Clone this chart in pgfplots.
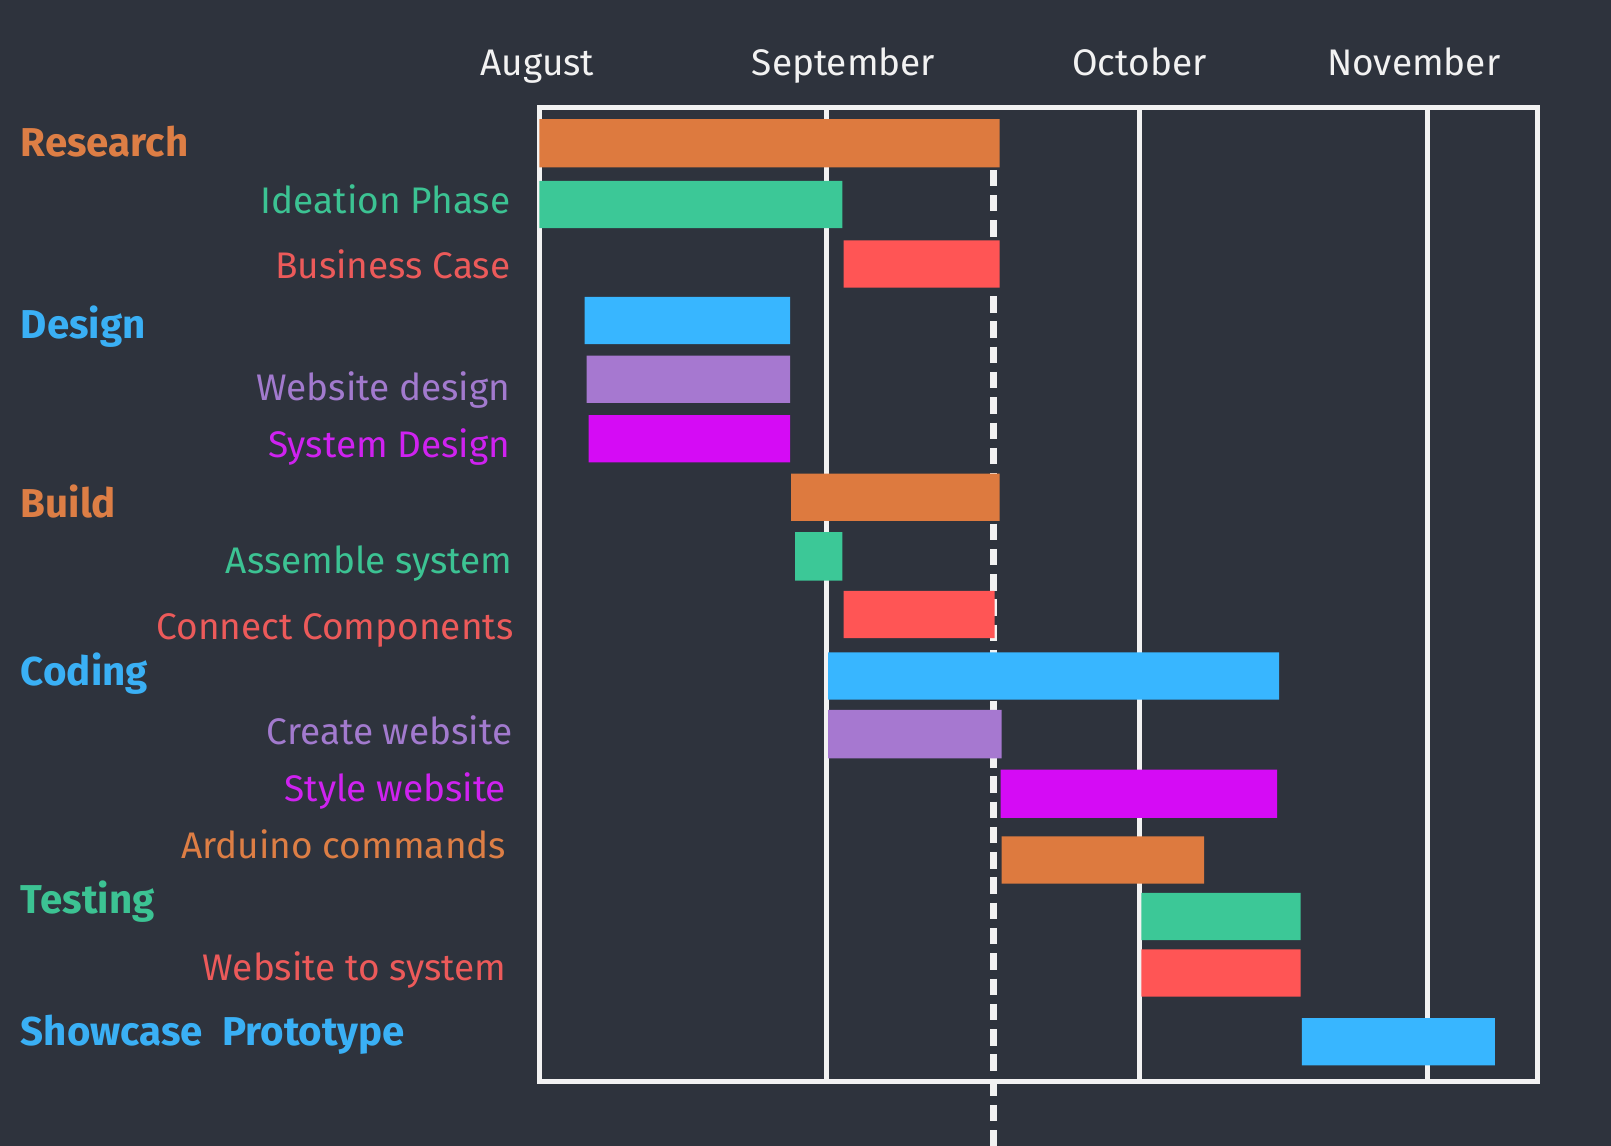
\documentclass[border=0pt]{standalone}
\usepackage{fontspec}
\setmainfont{Fira Sans}
\usepackage{pgfplots}
\pgfplotsset{compat=1.18}
\definecolor{bg}{HTML}{2E333D}
\definecolor{cor}{HTML}{DD7A3F}
\definecolor{cgr}{HTML}{3CC897}
\definecolor{cre}{HTML}{FF5555}
\definecolor{cbl}{HTML}{38B6FF}
\definecolor{cla}{HTML}{A678D0}
\definecolor{cma}{HTML}{D50BF5}
\definecolor{tor}{HTML}{DD7E45}
\definecolor{tgr}{HTML}{3CC393}
\definecolor{tre}{HTML}{EC5A5A}
\definecolor{tbl}{HTML}{3AB0F5}
\definecolor{tla}{HTML}{A27ACE}
\definecolor{tma}{HTML}{CF22F0}
\definecolor{tmo}{HTML}{F2F2F2}
% bar: colour, start, end, top, bottom
\newcommand{\gbar}[5]{\addplot[fill=#1, draw=none] coordinates {(#2,#4) (#3,#4) (#3,#5) (#2,#5) (#2,#4)};}
\newcommand{\glab}[4]{\node[anchor=base west, inner sep=0pt, text=#1, font=\bfseries\fontsize{19.6}{21}\selectfont] at (axis cs:#2,#3) {#4};}
\newcommand{\tlab}[4]{\node[anchor=base east, inner sep=0pt, text=#1, font=\fontsize{18}{20}\selectfont] at (axis cs:#2,#3) {#4};}
\begin{document}
\begin{tikzpicture}
\fill[bg] (0,0) rectangle (784pt,-557.5pt);
\begin{axis}[
  at={(262.5pt,-526.5pt)}, anchor=south west,
  scale only axis, width=485.5pt, height=474pt,
  xmin=0, xmax=971, ymin=105, ymax=1053, y dir=reverse,
  axis line style={tmo, line width=2.4pt},
  xtick={279,584,864}, xticklabels=\empty, ytick=\empty,
  major tick length=0pt,
  xmajorgrids, grid style={tmo, line width=2.4pt},
  clip=false,
]
% today line
\addplot[tmo, line width=3pt, dash pattern=on 8pt off 4.3pt] coordinates {(442,116) (442,1115)};
% bars
\gbar{cor}{0}{448}{116}{163}
\gbar{cgr}{0}{295}{176}{222}
\gbar{cre}{296}{448}{234}{280}
\gbar{cbl}{44}{244}{289}{335}
\gbar{cla}{46}{244}{346}{392}
\gbar{cma}{48}{244}{404}{450}
\gbar{cor}{245}{448}{461}{507}
\gbar{cgr}{249}{295}{518}{565}
\gbar{cre}{296}{443}{575}{621}
\gbar{cbl}{281}{720}{635}{681}
\gbar{cla}{281}{450}{691}{738}
\gbar{cma}{449}{718}{749}{796}
\gbar{cor}{450}{647}{814}{860}
\gbar{cgr}{586}{741}{869}{915}
\gbar{cre}{586}{741}{924}{970}
\gbar{cbl}{742}{930}{991}{1037}
% month labels
\node[anchor=base, text=tmo, font=\fontsize{18}{20}\selectfont] at (axis cs:-2,73) {August};
\node[anchor=base, text=tmo, font=\fontsize{18}{20}\selectfont] at (axis cs:296,73) {September};
\node[anchor=base, text=tmo, font=\fontsize{18}{20}\selectfont] at (axis cs:584,73) {October};
\node[anchor=base, text=tmo, font=\fontsize{18}{20}\selectfont] at (axis cs:851,73) {November};
% row labels
\glab{tor}{-505}{152}{Research}
\tlab{tgr}{-28}{208}{Ideation Phase}
\tlab{tre}{-28}{271}{Business Case}
\glab{tbl}{-505}{329}{Design}
\tlab{tla}{-28}{390}{Website design}
\tlab{tma}{-28}{445}{System Design}
\glab{tor}{-505}{504}{Build}
\tlab{tgr}{-26}{558}{Assemble system}
\tlab{tre}{-25}{622}{Connect Components}
\glab{tbl}{-505}{667}{Coding}
\tlab{tla}{-26}{725}{Create website}
\tlab{tma}{-32}{780}{Style website}
\tlab{tor}{-32}{836}{Arduino commands}
\glab{tgr}{-505}{889}{Testing}
\tlab{tre}{-32}{954}{Website to system}
\glab{tbl}{-505}{1018}{Showcase~ Prototype}
\end{axis}
\pgfresetboundingbox
\path[use as bounding box] (0,0) rectangle (784pt,-557.5pt);
\end{tikzpicture}
\end{document}
